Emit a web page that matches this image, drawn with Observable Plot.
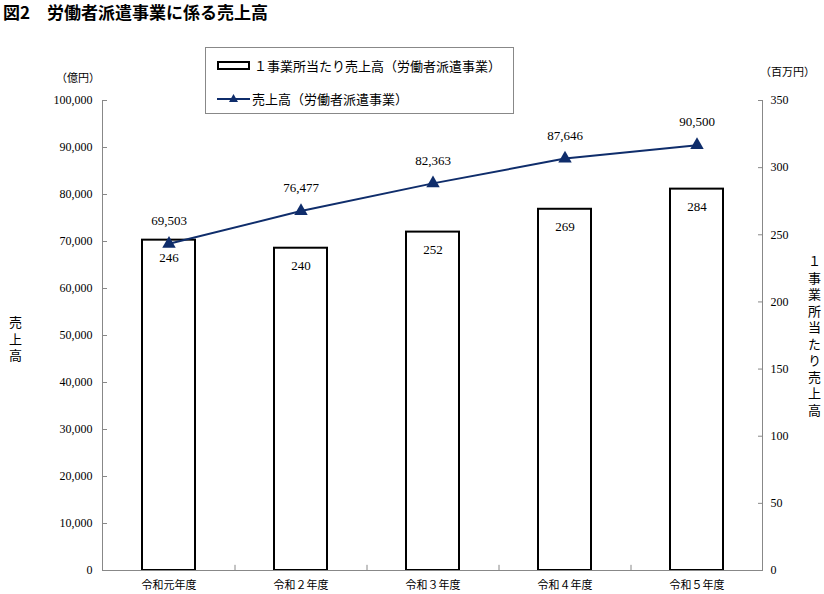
<!DOCTYPE html>
<html><head><meta charset="utf-8">
<script src="https://cdn.jsdelivr.net/npm/d3@7"></script>
<script src="https://cdn.jsdelivr.net/npm/@observablehq/plot@0.6"></script>
<style>
body{margin:0;background:#fff;}
#wrap{position:relative;width:824px;height:594px;font-family:"Noto Sans CJK JP",sans-serif;color:#000;overflow:hidden;}
#chart{position:absolute;left:0;top:0;}
.abs{position:absolute;white-space:nowrap;line-height:1;}
#title{left:3px;top:3px;font-size:17px;font-weight:700;}
#legend{position:absolute;left:205px;top:47px;width:307px;height:65px;border:1px solid #888;background:#fff;}
.unit{font-size:11px;}
.vlabel{writing-mode:vertical-rl;text-orientation:upright;font-size:13px;letter-spacing:3.5px;}
</style></head>
<body><div id="wrap">
<div id="chart"></div>
<div id="title" class="abs">図2　労働者派遣事業に係る売上高</div>
<div id="legend">
  <svg class="abs" style="left:11px;top:13px" width="34" height="10"><rect x="1" y="1" width="31" height="7" fill="#fff" stroke="#000" stroke-width="2"/></svg>
  <span class="abs" style="left:48px;top:11px;font-size:13px">１事業所当たり売上高（労働者派遣事業）</span>
  <svg class="abs" style="left:11px;top:44px" width="34" height="14"><line x1="0" y1="7" x2="33" y2="7" stroke="#0f2d6b" stroke-width="2"/><path d="M16.5,2 L21,10 L12,10 Z" fill="#0f2d6b"/></svg>
  <span class="abs" style="left:46px;top:44px;font-size:13px">売上高（労働者派遣事業）</span>
</div>
<div class="abs unit" style="left:56px;top:72px">（億円）</div>
<div class="abs unit" style="left:760px;top:66px">（百万円）</div>
<div class="abs vlabel" style="left:9px;top:316px">売上高</div>
<div class="abs vlabel" style="left:808px;top:255px">１事業所当たり売上高</div>
</div>
<script>
const years = ["令和元年度", "令和２年度", "令和３年度", "令和４年度", "令和５年度"];
const sales = [69503, 76477, 82363, 87646, 90500];          // 売上高（億円）
const perOffice = [246, 240, 252, 269, 284];                 // １事業所当たり売上高（百万円）
const leftTicks = [0, 10000, 20000, 30000, 40000, 50000, 60000, 70000, 80000, 90000, 100000];
const rightTicks = [0, 50, 100, 150, 200, 250, 300, 350];
const leftMax = 100000, rightMax = 350;

const k = leftMax / rightMax;
const data = years.map((y, i) => ({year: y, sales: sales[i], per: perOffice[i]}));
const W = 824, H = 594, mL = 102, mR = 62, mT = 100, mB = 24;
const step = (W - mL - mR) / years.length;
const fmt = d3.format(",");
const navy = "#0f2d6b";

const plot = Plot.plot({
  width: W, height: H, marginLeft: mL, marginRight: mR, marginTop: mT, marginBottom: mB,
  style: {fontFamily: '"Liberation Serif", serif', fontSize: "12px", background: "transparent", color: "#000"},
  x: {domain: years, paddingInner: 0.6, paddingOuter: 0.3, label: null},
  y: {domain: [0, leftMax], label: null},
  marks: [
    Plot.barY(data, {x: "year", y: d => d.per * k, fill: "white", stroke: "black", strokeWidth: 2}),
    Plot.frame({anchor: "left", stroke: "#888"}),
    Plot.frame({anchor: "right", stroke: "#888"}),
    Plot.ruleY([0], {stroke: "#888"}),
    Plot.axisY(leftTicks, {anchor: "left", tickSize: 5, dx: 5, tickFormat: () => "", stroke: "#888", label: null}),
    Plot.axisY(leftTicks, {anchor: "left", tickSize: 0, tickPadding: 10, tickFormat: fmt, label: null}),
    Plot.axisY(rightTicks.map(t => t * k), {anchor: "right", tickSize: 5, dx: -5, tickFormat: () => "", stroke: "#888", label: null}),
    Plot.axisY(rightTicks.map(t => t * k), {anchor: "right", tickSize: 0, tickPadding: 8, tickFormat: d => Math.round(d / k), label: null}),
    Plot.axisX({tickSize: 0, tickPadding: 11, fontFamily: '"Noto Sans CJK JP", sans-serif', fontSize: 11, label: null}),
    Plot.ruleX(years.slice(1), {x: d => d, y1: 0, y2: 1100, dx: -step / 2, stroke: "#888"}),
    Plot.line(data, {x: "year", y: "sales", stroke: navy, strokeWidth: 2}),
    Plot.dot(data, {x: "year", y: "sales", symbol: "triangle", r: 5, fill: navy}),
    Plot.text(data, {x: "year", y: "sales", text: d => fmt(d.sales), dy: -23, fontSize: 13}),
    Plot.text(data, {x: "year", y: d => d.per * k, text: "per", dy: 18, fontSize: 13})
  ]
});
document.getElementById("chart").appendChild(plot);
</script>
</body></html>
